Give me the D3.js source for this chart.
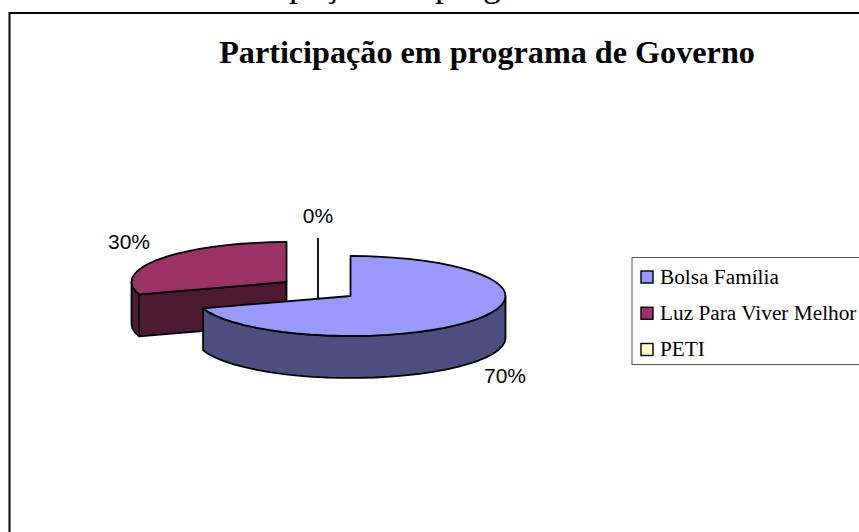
<!DOCTYPE html>
<html>
<head>
<meta charset="utf-8">
<script src="https://cdn.jsdelivr.net/npm/d3@7"></script>
<style>
  html, body { margin: 0; padding: 0; background: #fff; overflow: hidden; }
  svg { display: block; }
</style>
</head>
<body>
<div id="chart"></div>
<script>
const categories = ['Bolsa Família', 'Luz Para Viver Melhor', 'PETI'];
const values = [70, 30, 0];
const valueLabels = ['70%', '30%', '0%'];
const topColors = ['#9999ff', '#993366', '#ffffcc'];
const sideColors = ['#4d4d80', '#4d1a33', '#808066'];

const size = {width: 859, height: 532};
const radius = {x: 155, y: 40};
const depth = 42;
// exploded slice centres
const centers = [[350.5, 296], [286.5, 282], [318, 278]];
const labelPos = [[505, 383], [129, 249], [318, 223]];

const serif = '"Liberation Serif", serif';
const sans = '"Liberation Sans", sans-serif';

const svg = d3.select('#chart').append('svg')
  .attr('width', size.width)
  .attr('height', size.height);

// cut-off caption line from the page above the chart
svg.append('text')
  .attr('x', 195).attr('y', -4.5)
  .attr('font-family', serif).attr('font-size', 36)
  .text('Participação em programa de Governo');

// chart frame, runs off the right and bottom of the picture
svg.append('rect')
  .attr('x', 9.5).attr('y', 13)
  .attr('width', 900).attr('height', 600)
  .attr('fill', '#fff').attr('stroke', '#000').attr('stroke-width', 2);

svg.append('text')
  .attr('x', 487).attr('y', 63)
  .attr('text-anchor', 'middle')
  .attr('font-family', serif).attr('font-size', 32.2).attr('font-weight', 'bold')
  .text('Participação em programa de Governo');

const arcs = d3.pie().sort(null).value(d => d)(values);

function pt(center, a, dy = 0) {
  return [center[0] + radius.x * Math.sin(a), center[1] - radius.y * Math.cos(a) + dy];
}

// outline sampled in short straight pieces, like the original rendering
function rimPoints(center, a0, a1, dy = 0) {
  const n = Math.max(1, Math.round(Math.abs(a1 - a0) / 0.1));
  return d3.range(n + 1).map(i => pt(center, a0 + (a1 - a0) * i / n, dy));
}

const line = d3.line();

function addShape(points, fill) {
  svg.append('path')
    .attr('d', line(points) + 'Z')
    .attr('fill', fill)
    .attr('stroke', '#000')
    .attr('stroke-width', 1.8)
    .attr('stroke-linejoin', 'round');
}

// the outer wall shows only where the rim faces the viewer (90deg to 270deg)
function drawOuterWall(d, i) {
  const a0 = Math.max(d.startAngle, Math.PI / 2);
  const a1 = Math.min(d.endAngle, Math.PI * 1.5);
  if (a1 <= a0) return;
  const rim = rimPoints(centers[i], a0, a1);
  const low = rimPoints(centers[i], a1, a0, depth);
  addShape(rim.concat(low), sideColors[i]);
}

function drawCutWall(d, i, a) {
  const c = centers[i];
  const p = pt(c, a);
  addShape([c, p, [p[0], p[1] + depth], [c[0], c[1] + depth]], sideColors[i]);
}

function drawTop(d, i) {
  const c = centers[i];
  addShape([c].concat(rimPoints(c, d.startAngle, d.endAngle)), topColors[i]);
}

// back to front: red slice, the empty PETI slice, then blue
drawCutWall(arcs[1], 1, arcs[1].startAngle);
drawOuterWall(arcs[1], 1);
drawTop(arcs[1], 1);

const zero = centers[2];
svg.append('line')
  .attr('x1', zero[0]).attr('x2', zero[0])
  .attr('y1', pt(zero, arcs[2].startAngle)[1])
  .attr('y2', zero[1] + depth)
  .attr('stroke', '#000').attr('stroke-width', 1.8);

drawOuterWall(arcs[0], 0);
drawTop(arcs[0], 0);

svg.selectAll('text.value')
  .data(valueLabels)
  .enter().append('text')
  .attr('class', 'value')
  .attr('x', (d, i) => labelPos[i][0])
  .attr('y', (d, i) => labelPos[i][1])
  .attr('text-anchor', 'middle')
  .attr('font-family', sans).attr('font-size', 21)
  .attr('fill', '#000')
  .text(d => d);

// legend
const legendY = d3.scalePoint().domain(categories).range([277, 349.5]);
svg.append('rect')
  .attr('x', 632).attr('y', 257.5)
  .attr('width', 300).attr('height', 107)
  .attr('fill', '#fff').attr('stroke', '#555').attr('stroke-width', 1);

const rows = svg.selectAll('g.legend')
  .data(categories)
  .enter().append('g')
  .attr('class', 'legend')
  .attr('transform', d => `translate(0,${legendY(d)})`);

rows.append('rect')
  .attr('x', 641).attr('y', -6)
  .attr('width', 12).attr('height', 12)
  .attr('fill', (d, i) => topColors[i])
  .attr('stroke', '#000').attr('stroke-width', 1.4);

rows.append('text')
  .attr('x', 660).attr('y', 6.5)
  .attr('font-family', serif).attr('font-size', 21.3)
  .text(d => d);
</script>
</body>
</html>
